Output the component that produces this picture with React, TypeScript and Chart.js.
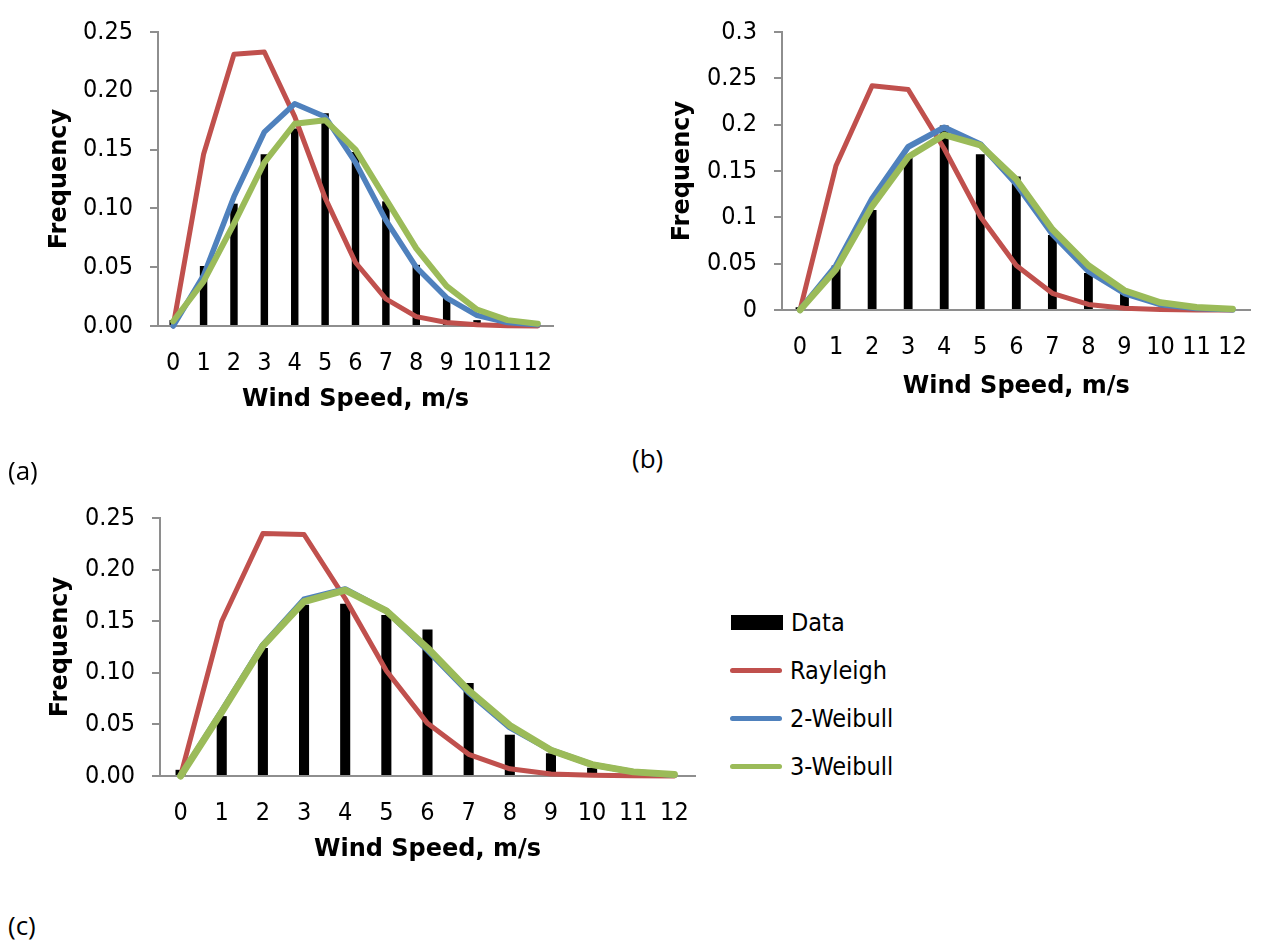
import React, { useEffect, useRef } from "react";
import { Chart, registerables } from "chart.js";

Chart.register(...registerables);

// Wind speed bins (m/s)
const windSpeeds = ["0", "1", "2", "3", "4", "5", "6", "7", "8", "9", "10", "11", "12"];

// Site (a)
const observedA = [0.005, 0.051, 0.104, 0.146, 0.168, 0.181, 0.148, 0.106, 0.052, 0.024, 0.005, 0.001, 0];
const rayleighA = [0, 0.146, 0.231, 0.233, 0.178, 0.109, 0.054, 0.023, 0.008, 0.003, 0.001, 0.0003, 0.0001];
const weibull2A = [0, 0.043, 0.11, 0.165, 0.189, 0.178, 0.139, 0.09, 0.05, 0.024, 0.009, 0.003, 0.001];
const weibull3A = [0.004, 0.038, 0.087, 0.139, 0.172, 0.175, 0.15, 0.108, 0.066, 0.034, 0.014, 0.005, 0.002];
const yTicksA = ["0.00", "0.05", "0.10", "0.15", "0.20", "0.25"];

// Site (b)
const observedB = [0.003, 0.048, 0.108, 0.164, 0.199, 0.168, 0.144, 0.081, 0.04, 0.019, 0.003, 0.001, 0];
const rayleighB = [0, 0.156, 0.242, 0.238, 0.174, 0.101, 0.048, 0.018, 0.006, 0.002, 0.0005, 0.0001, 0];
const weibull2B = [0, 0.048, 0.12, 0.176, 0.197, 0.179, 0.136, 0.082, 0.042, 0.018, 0.006, 0.002, 0.0005];
const weibull3B = [0, 0.044, 0.112, 0.165, 0.189, 0.178, 0.141, 0.087, 0.048, 0.021, 0.008, 0.003, 0.001];
const yTicksB = ["0", "0.05", "0.1", "0.15", "0.2", "0.25", "0.3"];

// Site (c)
const observedC = [0.006, 0.058, 0.124, 0.166, 0.167, 0.156, 0.142, 0.09, 0.04, 0.022, 0.008, 0.002, 0.001];
const rayleighC = [0, 0.15, 0.235, 0.234, 0.172, 0.102, 0.051, 0.021, 0.007, 0.002, 0.0007, 0.0002, 0];
const weibull2C = [0, 0.063, 0.127, 0.171, 0.181, 0.16, 0.122, 0.081, 0.047, 0.025, 0.011, 0.004, 0.001];
const weibull3C = [0, 0.062, 0.126, 0.169, 0.18, 0.16, 0.124, 0.083, 0.049, 0.025, 0.011, 0.004, 0.0015];
const yTicksC = ["0.00", "0.05", "0.10", "0.15", "0.20", "0.25"];

const seriesNames = ["Data", "Rayleigh", "2-Weibull", "3-Weibull"];
const seriesColors = ["#000000", "#C0504D", "#4F81BD", "#9BBB59"];

const AXIS_COLOR = "#8e8e8e";
const TICK_FONT = '"DejaVu Sans Condensed", "Liberation Sans", Arial, sans-serif';
const TITLE_FONT = '"DejaVu Sans", Verdana, sans-serif';

type PanelSpec = {
  left: number;
  top: number;
  width: number;
  height: number;
  padding: { left: number; right: number; top: number; bottom: number };
  yWidth: number;
  xHeight: number;
  yMax: number;
  yTicks: string[];
  observed: number[];
  rayleigh: number[];
  weibull2: number[];
  weibull3: number[];
  lineWidths: number[];
};

const panels: PanelSpec[] = [
  {
    left: 0, top: 0, width: 600, height: 440,
    padding: { left: 45.6, right: 47, top: 25, bottom: 25.6 },
    yWidth: 112.4, xHeight: 88.4, yMax: 0.25, yTicks: yTicksA,
    observed: observedA, rayleigh: rayleighA, weibull2: weibull2A, weibull3: weibull3A,
    lineWidths: [5, 5.5, 6],
  },
  {
    left: 630, top: 0, width: 631, height: 440,
    padding: { left: 38.6, right: 2, top: 25, bottom: 38.6 },
    yWidth: 113.4, xHeight: 91.4, yMax: 0.3, yTicks: yTicksB,
    observed: observedB, rayleigh: rayleighB, weibull2: weibull2B, weibull3: weibull3B,
    lineWidths: [5, 6, 6.5],
  },
  {
    left: 0, top: 480, width: 720, height: 420,
    padding: { left: 46.6, right: 25, top: 38, bottom: 35.6 },
    yWidth: 113.4, xHeight: 88.4, yMax: 0.25, yTicks: yTicksC,
    observed: observedC, rayleigh: rayleighC, weibull2: weibull2C, weibull3: weibull3C,
    lineWidths: [5, 6, 7],
  },
];

function lineSet(label: string, data: number[], color: string, width: number, order: number) {
  return {
    type: "line" as const,
    label,
    data,
    borderColor: color,
    backgroundColor: color,
    borderWidth: width,
    pointRadius: 0,
    tension: 0,
    borderJoinStyle: "round" as const,
    borderCapStyle: "round" as const,
    clip: false as const,
    order,
  };
}

function buildChart(canvas: HTMLCanvasElement, p: PanelSpec) {
  return new Chart(canvas, {
    type: "bar",
    data: {
      labels: windSpeeds,
      datasets: [
        {
          type: "bar",
          label: seriesNames[0],
          data: p.observed,
          backgroundColor: seriesColors[0],
          barPercentage: 0.245,
          categoryPercentage: 1,
          order: 4,
        },
        lineSet(seriesNames[1], p.rayleigh, seriesColors[1], p.lineWidths[0], 3),
        lineSet(seriesNames[2], p.weibull2, seriesColors[2], p.lineWidths[1], 2),
        lineSet(seriesNames[3], p.weibull3, seriesColors[3], p.lineWidths[2], 1),
      ] as any,
    },
    options: {
      responsive: false,
      animation: false,
      devicePixelRatio: 1,
      events: [],
      layout: { padding: p.padding },
      plugins: { legend: { display: false }, tooltip: { enabled: false } },
      scales: {
        x: {
          grid: { display: false },
          border: { display: true, color: AXIS_COLOR, width: 2 },
          ticks: {
            autoSkip: false,
            maxRotation: 0,
            minRotation: 0,
            padding: 14,
            color: "#000",
            font: { family: TICK_FONT, size: 25 },
          },
          title: {
            display: true,
            text: "Wind Speed, m/s",
            color: "#000",
            padding: 0,
            font: { family: TITLE_FONT, size: 24, weight: "bold" },
          },
          afterFit: (s: any) => {
            s.height = p.xHeight;
          },
        },
        y: {
          min: 0,
          max: p.yMax,
          grid: {
            drawOnChartArea: false,
            drawTicks: true,
            tickLength: 8,
            color: AXIS_COLOR,
            lineWidth: 2,
          },
          border: { display: true, color: AXIS_COLOR, width: 2 },
          ticks: {
            stepSize: 0.05,
            padding: 17,
            color: "#000",
            font: { family: TICK_FONT, size: 25 },
            callback: (_v: any, i: number) => p.yTicks[i],
          },
          title: {
            display: true,
            text: "Frequency",
            color: "#000",
            padding: 0,
            font: { family: TITLE_FONT, size: 24, weight: "bold" },
          },
          afterFit: (s: any) => {
            s.width = p.yWidth;
          },
        },
      },
    } as any,
  });
}

function Panel({ spec }: { spec: PanelSpec }) {
  const ref = useRef<HTMLCanvasElement | null>(null);
  useEffect(() => {
    if (!ref.current) return;
    const chart = buildChart(ref.current, spec);
    return () => chart.destroy();
  }, [spec]);
  return (
    <canvas
      ref={ref}
      width={spec.width}
      height={spec.height}
      style={{ position: "absolute", left: spec.left, top: spec.top, width: spec.width, height: spec.height }}
    />
  );
}

function Legend() {
  const rowTops = [622, 670, 718, 766];
  return (
    <>
      {seriesNames.map((name, i) => (
        <div
          key={name}
          style={{
            position: "absolute",
            left: 730,
            top: rowTops[i] - 16,
            height: 32,
            display: "flex",
            alignItems: "center",
            fontFamily: TICK_FONT,
            fontSize: 25,
            color: "#000",
            whiteSpace: "nowrap",
          }}
        >
          <span
            style={{
              display: "inline-block",
              width: 52,
              height: i === 0 ? 15 : 5,
              borderRadius: i === 0 ? 0 : 3,
              background: seriesColors[i],
              marginRight: 8,
              marginLeft: i === 0 ? 1 : 0,
            }}
          />
          <span>{name}</span>
        </div>
      ))}
    </>
  );
}

const panelLabels = [
  { text: "(a)", left: 8, center: 470 },
  { text: "(b)", left: 632, center: 458 },
  { text: "(c)", left: 8, center: 925 },
];

export default function App() {
  return (
    <div
      style={{
        position: "absolute",
        left: 0,
        top: 0,
        width: 1261,
        height: 940,
        overflow: "hidden",
        background: "#fff",
      }}
    >
      {panels.map((p, i) => (
        <Panel key={i} spec={p} />
      ))}
      <Legend />
      {panelLabels.map((l) => (
        <div
          key={l.text}
          style={{
            position: "absolute",
            left: l.left,
            top: l.center - 18,
            height: 36,
            lineHeight: "36px",
            fontFamily: '"Open Sans", "Liberation Sans", sans-serif',
            fontSize: 26,
            color: "#000",
          }}
        >
          {l.text}
        </div>
      ))}
    </div>
  );
}
